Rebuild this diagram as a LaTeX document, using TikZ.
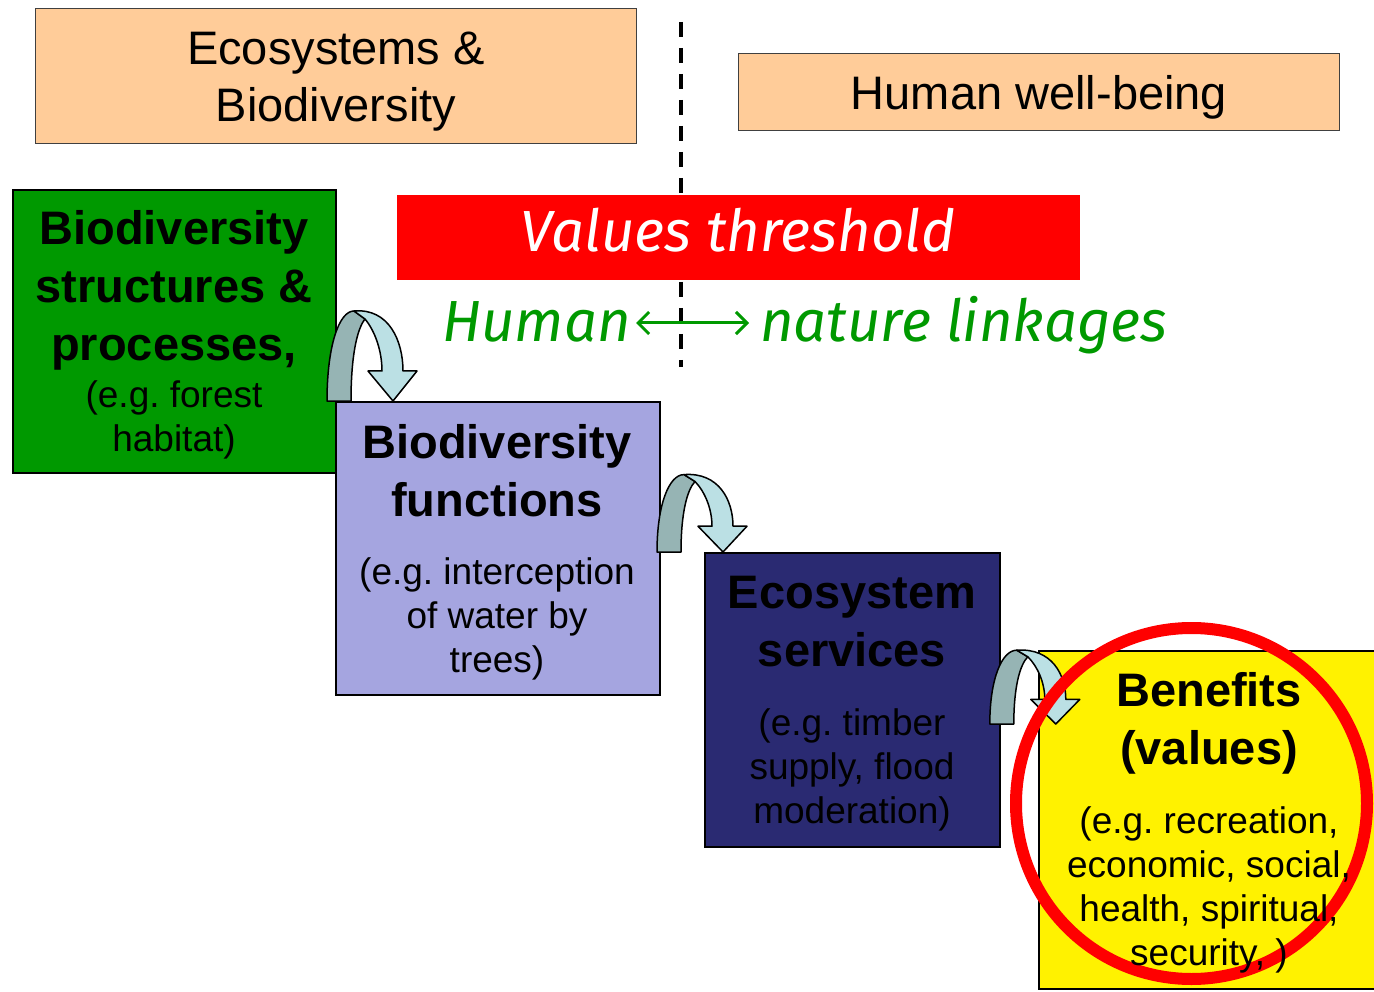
\documentclass[tikz,border=0pt]{standalone}
\usepackage{fontspec}
\setmainfont{Liberation Sans}
\newfontfamily\handfont{Fira Sans}
\usetikzlibrary{arrows.meta,calc}
\frenchspacing

\definecolor{peach}{HTML}{FFCC99}
\definecolor{leafgreen}{HTML}{009900}
\definecolor{lavender}{HTML}{A5A5E0}
\definecolor{navyblue}{HTML}{2A2A72}
\definecolor{arrowdark}{HTML}{96B4B4}
\definecolor{arrowlight}{HTML}{BBE0E4}

% centred multi-line text whose baseline is the first line
\newcommand\boxlines[2]{\parbox[t]{#1}{\centering #2}}

\tikzset{
  panel/.style={draw=black, line width=1.8pt, inner sep=0pt, anchor=north west},
  headbox/.style={panel, fill=peach, draw=black!75, line width=1.1pt},
  headtext/.style={font=\fontsize{47}{57}\selectfont, anchor=base, inner sep=0pt},
  titletext/.style={font=\fontsize{47}{58}\selectfont\bfseries, anchor=base, inner sep=0pt},
  notetext/.style={font=\fontsize{37}{44}\selectfont, anchor=base, inner sep=0pt},
  handtext/.style={font=\handfont\itshape\fontsize{58}{60}\selectfont, inner sep=0pt},
  pics/turnarrow/.style={code={
    \filldraw[fill=arrowdark, draw=black, line width=1.5pt, line join=round]
      (0,0) .. controls (0,-55) and (12,-90) .. (27,-90)
      -- (38,-82) .. controls (30,-72) and (24,-45) .. (24,0) -- cycle;
    \filldraw[fill=arrowlight, draw=black, line width=1.5pt, line join=round]
      (27,-90) .. controls (62,-93) and (76,-60) .. (76,-30)
      -- (90,-30) -- (66,0) -- (41,-30) -- (55,-30)
      .. controls (55,-50) and (48,-70) .. (38,-82) -- cycle;
  }}
}

\begin{document}
\begin{tikzpicture}[x=1pt,y=-1pt]
\useasboundingbox (0,0) rectangle (1374,992);
\clip (0,0) rectangle (1374,992);

% domain headers
\node[headbox, minimum width=601pt, minimum height=135pt] (ecohead) at (35,8) {};
\node[headtext] (ecoheadtext) at (336,65) {\boxlines{560pt}{Ecosystems \&\\ Biodiversity}};
\node[headbox, minimum width=601pt, minimum height=77pt] (humanhead) at (738,53) {};
\node[headtext] (humanheadtext) at (1039,110) {Human well-being};

% dividing line between the two domains
\coordinate (divtop) at (681,22);
\coordinate (divbottom) at (681,367);
\draw[line width=3.5pt, dash pattern=on 15pt off 11pt] (divtop) -- (divbottom);

% threshold banner
\node[panel, draw=none, fill=red, minimum width=683pt, minimum height=85pt] (threshold) at (396,194) {};
\node[handtext, text=white, anchor=base] (thresholdtext) at (738,252) {Values threshold};

% human - nature linkage
\node[handtext, text=leafgreen, anchor=base east] (human) at (631,342) {Human};
\node[handtext, text=leafgreen, anchor=base west] (nature) at (760,342) {nature linkages};
\draw[leafgreen, line width=3pt, {Straight Barb[length=11pt,width=22pt]}-{Straight Barb[length=11pt,width=22pt]},
      shorten <=5pt, shorten >=11pt]
  ($(human.base east)+(0,-19)$) -- ($(nature.base west)+(0,-19)$);

% cascade of boxes
\node[panel, fill=leafgreen, minimum width=323pt, minimum height=283pt] (structures) at (12,189) {};
\node[titletext] (structurestitle) at (174,245) {\boxlines{320pt}{Biodiversity\\ structures \&\\ processes,}};
\node[notetext] (structuresnote) at (174,407) {\boxlines{320pt}{(e.g. forest\\ habitat)}};

\node[panel, fill=lavender, minimum width=324pt, minimum height=293pt] (functions) at (335,401) {};
\node[titletext] (functionstitle) at (497,458) {\boxlines{320pt}{Biodiversity\\ functions}};
\node[notetext] (functionsnote) at (497,584) {\boxlines{320pt}{(e.g. interception\\ of water by\\ trees)}};

\node[panel, fill=navyblue, minimum width=295pt, minimum height=294pt] (services) at (704,552) {};
\node[titletext] (servicestitle) at (852,608) {\boxlines{290pt}{Ecosystem\\ services}};
\node[notetext] (servicesnote) at (852,735) {\boxlines{290pt}{(e.g. timber\\ supply, flood\\ moderation)}};

\node[panel, fill=yellow, minimum width=342pt, minimum height=338pt] (benefits) at (1038,650) {};

% turning arrows between the steps
\pic (stepone) at ($(functions.north west)+(-8,0)$) {turnarrow};
\pic[yscale=0.86] (steptwo) at ($(services.north west)+(-47,0)$) {turnarrow};
\pic[yscale=0.82] (stepthree) at ($(services.north east)+(-11,172)$) {turnarrow};

% highlight ring, under the benefit texts
\node[circle, draw=red, line width=12pt, minimum size=351pt, inner sep=0pt] (ring) at (1191.5,803.5) {};

\node[titletext] (benefitstitle) at (1209,706) {\boxlines{330pt}{Benefits\\ (values)}};
\node[notetext] (benefitsnote) at (1209,833) {\boxlines{330pt}{(e.g. recreation,\\ economic, social,\\ health, spiritual,\\ security, )}};
\end{tikzpicture}
\end{document}
